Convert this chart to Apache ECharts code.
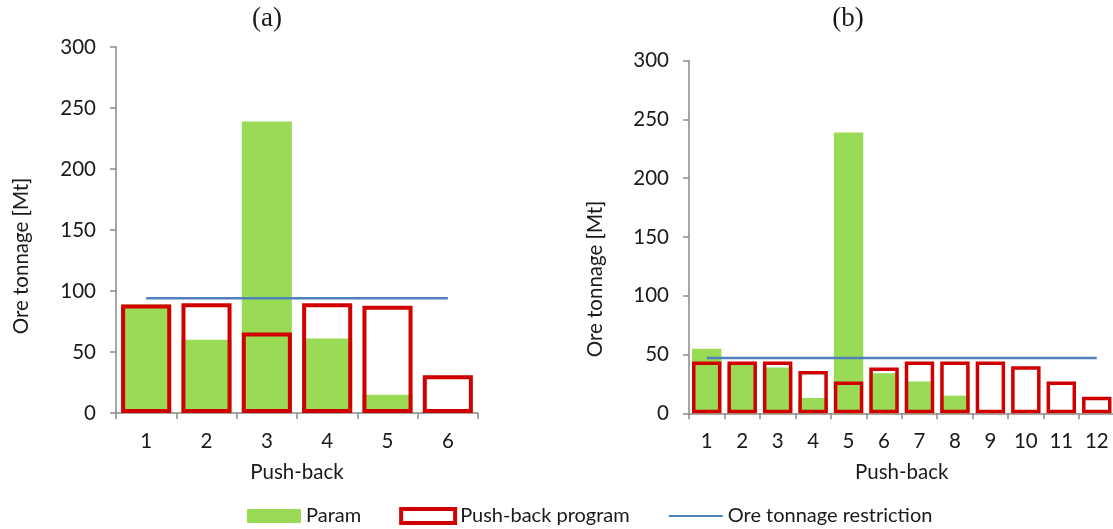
<!DOCTYPE html>
<html>
<head>
<meta charset="utf-8">
<script src="https://cdn.jsdelivr.net/npm/echarts@6/dist/echarts.min.js"></script>
<style>
  html, body { margin: 0; padding: 0; background: #ffffff; }
  #chart { width: 1113px; height: 529px; }
</style>
</head>
<body>
<div id="chart"></div>
<script>
// ---- data ----
const catsA = ['1', '2', '3', '4', '5', '6'];
const paramA = [89, 60, 239, 61, 15, 0];
const pushA = [89, 90, 66, 90, 88, 31];
const limitA = [94, 94, 94, 94, 94, 94];

const catsB = ['1', '2', '3', '4', '5', '6', '7', '8', '9', '10', '11', '12'];
const paramB = [55, 41, 39, 13, 239, 34, 27, 15, 0, 0, 0, 0];
const pushB = [44, 44, 44, 36, 27, 39, 44, 44, 44, 40, 27, 14];
const limitB = [47, 47, 47, 47, 47, 47, 47, 47, 47, 47, 47, 47];

const yMin = 0, yMax = 300, yStep = 50;
const panelTitles = ['(a)', '(b)'];
const xName = 'Push-back';
const yName = 'Ore tonnage [Mt]';
const seriesNames = ['Param', 'Push-back program', 'Ore tonnage restriction'];

// ---- style ----
const FONT = 'Lato, "Noto Sans", sans-serif';
const TXT = '#1a1a1a';
const AXIS = '#8a8a8a';
const GREEN = '#99DB55';
const RED = '#D00000';
const BLUE = '#4F81BD';
const FS = 20.5;

function xAxisFor(cats, gi) {
  return {
    type: 'category', gridIndex: gi, data: cats, boundaryGap: true,
    name: xName, nameLocation: 'middle', nameGap: 49,
    nameTextStyle: { fontFamily: FONT, fontSize: FS, color: TXT },
    axisLine: { show: true, lineStyle: { color: AXIS, width: 1.5 } },
    axisTick: { show: true, alignWithLabel: false, length: 6, lineStyle: { color: AXIS, width: 1.5 } },
    axisLabel: { fontFamily: FONT, fontSize: FS, color: TXT, margin: 18, interval: 0 },
    splitLine: { show: false }
  };
}
function yAxisFor(gi) {
  return {
    type: 'value', gridIndex: gi, min: yMin, max: yMax, interval: yStep,
    axisLine: { show: true, lineStyle: { color: AXIS, width: 1.5 } },
    axisTick: { show: true, length: 6, lineStyle: { color: AXIS, width: 1.5 } },
    axisLabel: { fontFamily: FONT, fontSize: FS, color: TXT, margin: 20 },
    splitLine: { show: false }
  };
}
function seriesFor(param, push, limit, gi, bw) {
  return [
    {
      name: seriesNames[0], type: 'bar', xAxisIndex: gi, yAxisIndex: gi,
      data: param, barGap: '-100%', barCategoryGap: '17%', z: 2,
      itemStyle: { color: GREEN }
    },
    {
      name: seriesNames[1], type: 'bar', xAxisIndex: gi, yAxisIndex: gi,
      data: push, barGap: '-100%', barCategoryGap: '17%', z: 3,
      itemStyle: { color: 'rgba(255,255,255,0)', borderColor: RED, borderWidth: bw }
    },
    {
      name: seriesNames[2], type: 'line', xAxisIndex: gi, yAxisIndex: gi,
      data: limit, symbol: 'none', showSymbol: false, z: 4,
      lineStyle: { color: BLUE, width: 2.5 }, itemStyle: { color: BLUE }
    }
  ];
}

const chart = echarts.init(document.getElementById('chart'), null, { renderer: 'canvas' });
const option = {
  animation: false,
  backgroundColor: '#ffffff',
  grid: [
    { left: 116, top: 47, width: 362, height: 366, containLabel: false, outerBoundsMode: 'none' },
    { left: 689, top: 60.7, width: 425.5, height: 352.6, containLabel: false, outerBoundsMode: 'none' }
  ],
  xAxis: [xAxisFor(catsA, 0), xAxisFor(catsB, 1)],
  yAxis: [yAxisFor(0), yAxisFor(1)],
  legend: {
    left: 247, top: 506, padding: 0,
    itemWidth: 54, itemHeight: 14, itemGap: 38,
    textStyle: { fontFamily: FONT, fontSize: 20, color: TXT },
    data: [
      { name: seriesNames[0], icon: 'rect' },
      { name: seriesNames[1], icon: 'rect', itemStyle: { color: '#ffffff', borderColor: RED, borderWidth: 4 } },
      { name: seriesNames[2], itemStyle: { opacity: 0 } }
    ]
  },
  graphic: [
    { type: 'text', x: 267, y: 19, style: { text: panelTitles[0], fontFamily: '"Liberation Serif", "DejaVu Serif", serif', fontSize: 27, fill: TXT, align: 'center', verticalAlign: 'middle' } },
    { type: 'text', x: 848, y: 19, style: { text: panelTitles[1], fontFamily: '"Liberation Serif", "DejaVu Serif", serif', fontSize: 27, fill: TXT, align: 'center', verticalAlign: 'middle' } },
    { type: 'text', x: 21, y: 256, rotation: Math.PI / 2, style: { text: yName, fontFamily: FONT, fontSize: FS, fill: TXT, align: 'center', verticalAlign: 'middle' } },
    { type: 'text', x: 595, y: 279, rotation: Math.PI / 2, style: { text: yName, fontFamily: FONT, fontSize: FS, fill: TXT, align: 'center', verticalAlign: 'middle' } }
  ],
  series: [].concat(
    seriesFor(paramA, pushA, limitA, 0, 4),
    seriesFor(paramB, pushB, limitB, 1, 3.5)
  )
};
chart.setOption(option);
</script>
</body>
</html>
